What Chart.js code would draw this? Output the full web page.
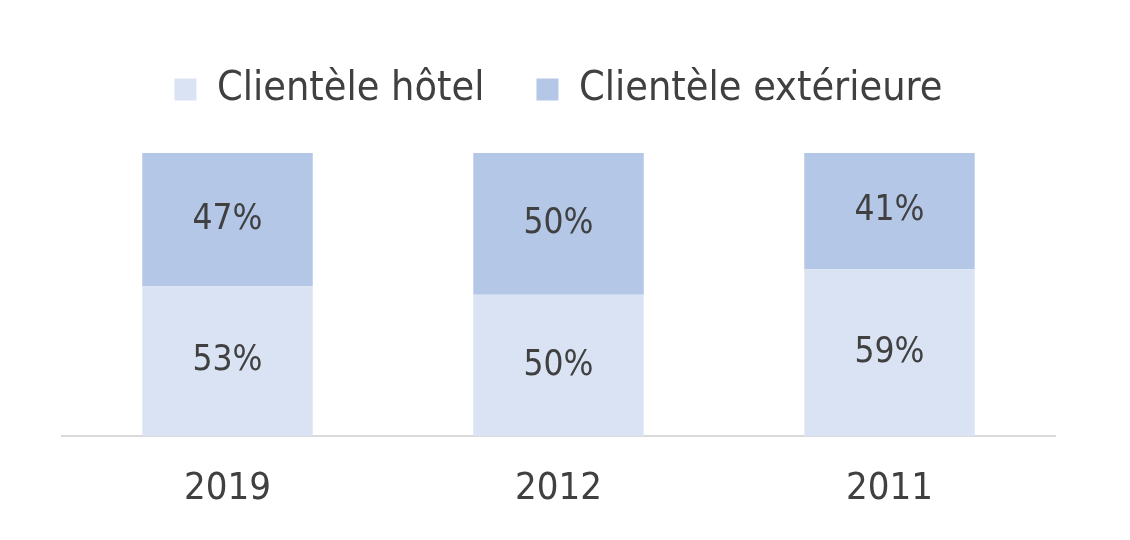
<!DOCTYPE html>
<html>
<head>
<meta charset="utf-8">
<script src="https://cdn.jsdelivr.net/npm/chart.js@4.4.1/dist/chart.umd.min.js"></script>
<style>
  html, body { margin: 0; padding: 0; background: #fff; }
  #wrap { width: 1130px; height: 540px; }
</style>
</head>
<body>
<div id="wrap"><canvas id="chart"></canvas></div>
<script>
const years = ['2019', '2012', '2011']
const hotel = [53, 50, 59]
const exterieure = [47, 50, 41]

const FONT = "'DejaVu Sans Condensed', 'DejaVu Sans', sans-serif"
const TEXT = '#404040'

// draws the % values in the middle of each segment
const segmentLabels = {
  id: 'segmentLabels',
  afterDatasetsDraw (chart) {
    const ctx = chart.ctx
    ctx.save()
    ctx.font = '35px ' + FONT
    ctx.fillStyle = TEXT
    ctx.textAlign = 'center'
    ctx.textBaseline = 'middle'
    chart.data.datasets.forEach((ds, i) => {
      chart.getDatasetMeta(i).data.forEach((bar, j) => {
        const { x, y, base } = bar.getProps(['x', 'y', 'base'], true)
        ctx.fillText(ds.data[j] + '%', x, (y + base) / 2)
      })
    })
    ctx.restore()
  }
}

// extra room under the legend
const legendGap = {
  id: 'legendGap',
  beforeInit (chart) {
    const fit = chart.legend.fit
    chart.legend.fit = function () {
      fit.bind(chart.legend)()
      this.height += 33
    }
  }
}

new Chart(document.getElementById('chart'), {
  type: 'bar',
  data: {
    labels: years,
    datasets: [
      { label: 'Clientèle hôtel', data: hotel, backgroundColor: '#DAE3F3' },
      { label: 'Clientèle extérieure', data: exterieure, backgroundColor: '#B4C7E7' }
    ]
  },
  options: {
    responsive: true,
    maintainAspectRatio: false,
    animation: false,
    layout: { padding: { top: 17, left: 62, right: 75, bottom: -2 } },
    datasets: { bar: { categoryPercentage: 1, barPercentage: 0.515 } },
    plugins: {
      legend: {
        position: 'top',
        labels: {
          boxWidth: 22,
          boxHeight: 22,
          padding: 52,
          color: TEXT,
          font: { family: FONT, size: 41 }
        }
      },
      tooltip: { enabled: false }
    },
    scales: {
      x: {
        stacked: true,
        grid: { display: false, drawTicks: false },
        border: { color: '#D9D9D9', width: 2 },
        ticks: { color: TEXT, padding: 30, font: { family: FONT, size: 38 } }
      },
      y: {
        stacked: true,
        display: false,
        min: 0,
        max: 100
      }
    }
  },
  plugins: [segmentLabels, legendGap]
})
</script>
</body>
</html>
